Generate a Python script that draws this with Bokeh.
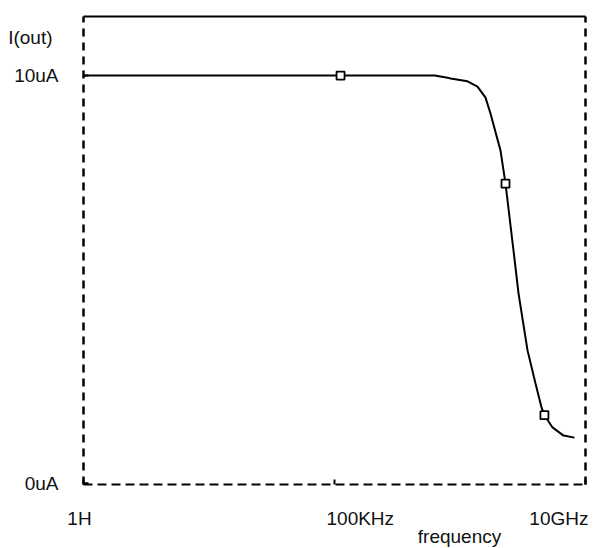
import math
from bokeh.plotting import figure
from bokeh.models import Range1d
from bokeh.core.properties import value
from bokeh.embed import file_html
from bokeh.resources import INLINE

# ---- data ----
freq_hz = [1, 10, 100, 1e3, 1e4, 1e5, 1e6, 1e7, 1.78e7, 2.05e7, 4.46e7, 7.06e7,
           1.02e8, 1.28e8, 2.03e8, 2.55e8, 3.68e8, 4.63e8, 7.0e8, 1.01e9,
           1.33e9, 1.52e9, 2.2e9, 3.65e9, 6.04e9]
current_ua = [10, 10, 10, 10, 10, 10, 10, 10, 9.95, 9.93, 9.86, 9.73,
              9.46, 9.07, 8.16, 7.35, 5.71, 4.66, 3.26, 2.45,
              1.86, 1.67, 1.37, 1.17, 1.12]
marker_freq = [1.32e5, 2.55e8, 1.52e9]
marker_current = [10, 7.35, 1.67]

y_ticks = [0, 10]
y_tick_labels = ["0uA", "10uA"]
x_ticks = [1, 1e5, 1e10]
x_tick_labels = ["1H", "100KHz", "10GHz"]
y_title = "I(out)"
x_title = "frequency"

# plot box limits (data units)
X_MIN, X_MAX = 1, 1e10
Y_MIN, Y_MAX = -0.03, 11.45

# ---- layout (pixels) ----
W, H = 595, 548
BOX_L, BOX_R, BOX_T, BOX_B = 83, 585, 16, 484
FONT = value("Liberation Sans")
FS = value("19px")
INK = "#111111"

lx0, lx1 = math.log10(X_MIN), math.log10(X_MAX)
ppd = (BOX_R - BOX_L) / (lx1 - lx0)
x_start = 10 ** (lx0 - BOX_L / ppd)
x_end = 10 ** (lx1 + (W - BOX_R) / ppd)
ppu = (BOX_B - BOX_T) / (Y_MAX - Y_MIN)
y_end = Y_MAX + BOX_T / ppu
y_start = Y_MIN - (H - BOX_B) / ppu

p = figure(width=W, height=H, x_axis_type="log", x_axis_location=None,
           y_axis_location=None,
           x_range=Range1d(x_start, x_end), y_range=Range1d(y_start, y_end),
           output_backend="svg", toolbar_location=None,
           min_border=0)
p.grid.visible = False
p.outline_line_color = None
p.background_fill_color = "white"
p.border_fill_color = "white"

# plot box: solid top, dashed left / right / bottom
p.line([X_MIN, X_MAX], [Y_MAX, Y_MAX], line_color="black", line_width=2)
p.line([X_MIN, X_MIN], [Y_MIN, Y_MAX], line_color="black", line_width=2.5, line_dash="8 6")
p.line([X_MAX, X_MAX], [Y_MIN, Y_MAX], line_color="black", line_width=2.5, line_dash="8 6")
p.line([X_MIN, X_MAX], [Y_MIN, Y_MIN], line_color="black", line_width=2, line_dash="9 5")

# inward tick marks
p.ray(x=[X_MIN] * len(y_ticks), y=y_ticks, length=5, length_units="screen",
      angle=0, line_color="black", line_width=2)
p.ray(x=x_ticks, y=[Y_MIN] * len(x_ticks), length=5, length_units="screen",
      angle=math.pi / 2, line_color="black", line_width=2)

# curve and markers
p.line(freq_hz, current_ua, line_color="black", line_width=2)
p.scatter(marker_freq, marker_current, marker="square", size=8,
          fill_color="white", line_color="black", line_width=1.8)

# y tick labels and title
p.text(x=[X_MIN] * len(y_ticks), y=y_ticks, text=y_tick_labels,
       text_align="right", text_baseline="middle", x_offset=-25,
       text_font=FONT, text_font_size=FS, text_color=INK)
p.text(x=[X_MIN], y=[Y_MAX], text=[y_title], text_align="right",
       text_baseline="middle", x_offset=-31, y_offset=21,
       text_font=FONT, text_font_size=FS, text_color=INK)

# x tick labels and title
p.text(x=x_ticks, y=[Y_MIN] * len(x_ticks), text=x_tick_labels,
       text_align=["center", "left", "right"], x_offset=[-4, -8, 3],
       text_baseline="middle", y_offset=34,
       text_font=FONT, text_font_size=FS, text_color=INK)
p.text(x=[x_ticks[1]], y=[Y_MIN], text=[x_title], text_align="center",
       text_baseline="middle", x_offset=125, y_offset=52,
       text_font=FONT, text_font_size=FS, text_color=INK)

open("out.html", "w").write(file_html(p, INLINE))
